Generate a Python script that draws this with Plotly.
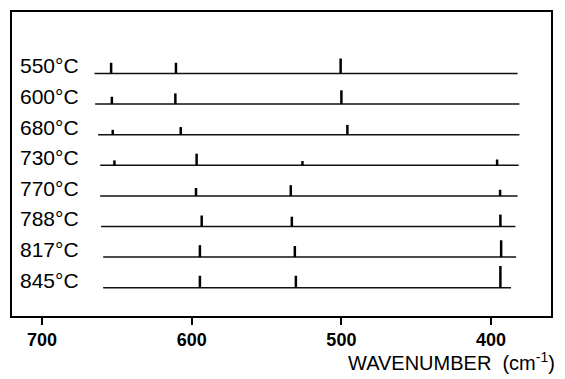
import plotly.graph_objects as go

# ---- data ----
temps = ["550°C", "600°C", "680°C", "730°C", "770°C", "788°C", "817°C", "845°C"]
line_start = [664.9, 664.5, 662.5, 661.1, 661.1, 660.5, 659.1, 659.1]
line_end = [382.3, 381.1, 381.1, 381.6, 382.3, 383.8, 383.3, 386.7]
peak_pos = [
    [653.8, 610.5, 500.5],
    [653.3, 610.9, 500.0],
    [652.7, 607.3, 496.0],
    [651.6, 596.7, 526.0, 396.0],
    [597.1, 533.8, 394.0],
    [593.3, 533.1, 393.8],
    [594.5, 531.1, 393.3],
    [594.5, 530.4, 393.8],
]
peak_height = [
    [0.35, 0.35, 0.49],
    [0.24, 0.35, 0.45],
    [0.16, 0.25, 0.32],
    [0.16, 0.38, 0.14, 0.19],
    [0.26, 0.35, 0.20],
    [0.36, 0.32, 0.39],
    [0.39, 0.36, 0.55],
    [0.39, 0.39, 0.71],
]
tick_vals = [700, 600, 500, 400]
tick_text = ["700", "600", "500", "400"]
x_title = "WAVENUMBER  (cm<sup>-1</sup>)"

fig = go.Figure()
for i, t in enumerate(temps):
    base = -i
    fig.add_trace(go.Scatter(
        x=[line_start[i], line_end[i]], y=[base, base], mode="lines",
        line=dict(color="#111111", width=1.5), hoverinfo="skip", showlegend=False))
    xs, ys = [], []
    for p, h in zip(peak_pos[i], peak_height[i]):
        xs += [p, p, None]
        ys += [base, base + h, None]
    fig.add_trace(go.Scatter(
        x=xs, y=ys, mode="lines", line=dict(color="black", width=2.5),
        hoverinfo="skip", showlegend=False))
    fig.add_annotation(
        x=716, y=base + 0.25, xref="x", yref="y", text=t, showarrow=False,
        xanchor="left", yanchor="middle",
        font=dict(family="Liberation Sans", size=21, color="black"))

fig.add_annotation(
    x=1.011, y=-0.15, xref="paper", yref="paper", text=x_title, showarrow=False,
    xanchor="right", yanchor="middle",
    font=dict(family="Liberation Sans", size=20, color="black"))

fig.update_layout(
    width=557, height=371,
    margin=dict(l=4, r=14, t=2, b=63),
    paper_bgcolor="white", plot_bgcolor="white",
    xaxis=dict(range=[720, 360], tickvals=tick_vals, ticktext=tick_text,
               ticks="outside", ticklen=7, tickwidth=1.5, tickcolor="black",
               showline=True, mirror=True, linecolor="black", linewidth=1.5,
               showgrid=False, zeroline=False,
               tickfont=dict(family="Liberation Sans", size=18, color="black", weight="bold")),
    yaxis=dict(range=[-7.925, 2.01], showticklabels=False, ticks="",
               showline=True, mirror=True, linecolor="black", linewidth=1.5,
               showgrid=False, zeroline=False),
)

fig.write_html("out.html")
